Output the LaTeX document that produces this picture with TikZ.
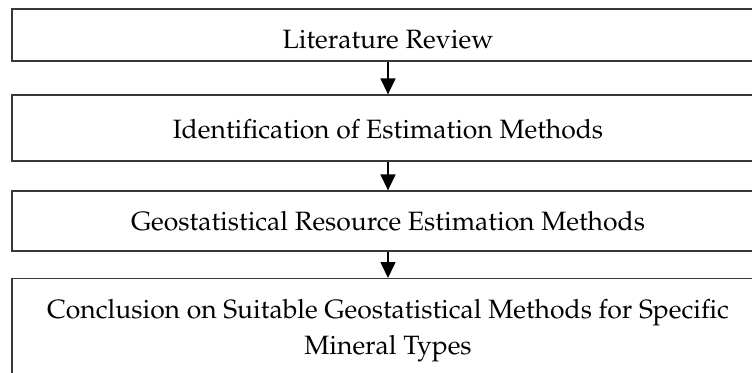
\documentclass[tikz,border=0pt]{standalone}
\usepackage[T1]{fontenc}
\renewcommand{\rmdefault}{ppl}
\usetikzlibrary{arrows.meta}
\tikzset{
  flowbox/.style={draw=black!78, line width=1.3pt, minimum width=752pt, inner xsep=0pt, inner ysep=0pt, anchor=base, font=\fontsize{26.5pt}{36pt}\selectfont},
  flowarrow/.style={line width=1.6pt, black, -{Triangle[width=15pt,length=16pt]}}
}
\begin{document}
\begin{tikzpicture}[x=1pt,y=1pt]
\useasboundingbox (0,0) rectangle (752,-372);
\clip (0,0) rectangle (752,-372);
\fill[white] (0,0) rectangle (752,-372);
\node[flowbox, text height=39pt, text depth=13pt] (b1) at (388,-48) {Literature Review};
\node[flowbox, text height=43pt, text depth=23pt] (b2) at (388,-138) {Identification of Estimation Methods};
\node[flowbox, text height=39pt, text depth=21pt] (b3) at (388,-230) {Geostatistical Resource Estimation Methods};
\node[flowbox, anchor=north, align=center] (b4) at (388,-278) {\rule{0pt}{40pt}Conclusion on Suitable Geostatistical Methods for Specific\\Mineral Types\rule[-40pt]{0pt}{40pt}};
\draw[flowarrow] (b1.south) -- (b2.north);
\draw[flowarrow] (b2.south) -- (b3.north);
\draw[flowarrow] (b3.south) -- (b4.north);
\end{tikzpicture}
\end{document}
